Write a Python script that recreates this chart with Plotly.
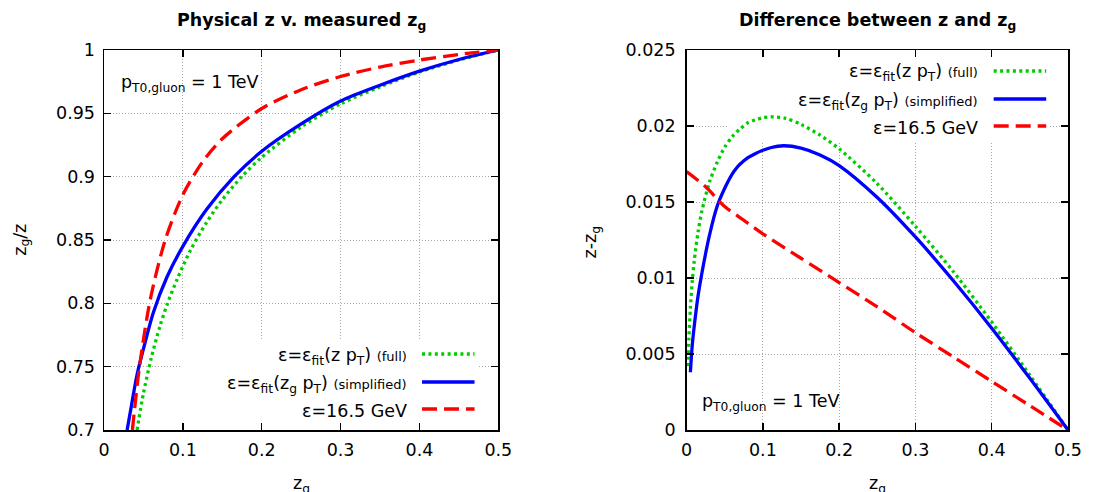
import plotly.graph_objects as go

# ---------------- data ----------------
# Left panel: z_g / z versus z_g
zg_full_L = [0.0419, 0.05, 0.06, 0.071, 0.08, 0.0926, 0.11, 0.13, 0.15, 0.175, 0.2, 0.25, 0.3, 0.35, 0.4, 0.45, 0.5]
ratio_full_L = [0.70, 0.729, 0.757, 0.782, 0.799, 0.8187, 0.8424, 0.8638, 0.8818, 0.9002, 0.9153, 0.9392,
                0.9575, 0.9709, 0.9826, 0.9921, 1.0]

zg_simp_L = [0.0293, 0.035, 0.042, 0.05, 0.0627, 0.08, 0.1, 0.13, 0.165, 0.2, 0.25, 0.3, 0.35, 0.4, 0.45, 0.5]
ratio_simp_L = [0.70, 0.72, 0.744, 0.764, 0.793, 0.821, 0.845, 0.874, 0.900, 0.920, 0.9416, 0.9597, 0.9722,
                0.9833, 0.9925, 1.0]

zg_const_L = [0.036, 0.045, 0.0586, 0.0775, 0.1, 0.125, 0.15, 0.2, 0.25, 0.3, 0.35, 0.4, 0.45, 0.5]
ratio_const_L = [0.70, 0.75, 0.8027, 0.8498, 0.8857, 0.9117, 0.9299, 0.9538, 0.9686, 0.9791, 0.9865, 0.9921,
                 0.9965, 1.0]

# Right panel: z - z_g versus z_g
zg_full_R = [0.0017, 0.003, 0.005, 0.0075, 0.01, 0.015, 0.02, 0.03, 0.04, 0.05, 0.06, 0.07, 0.08, 0.09,
             0.1, 0.11, 0.13, 0.15, 0.175, 0.2, 0.25, 0.3, 0.35, 0.4, 0.45, 0.5]
diff_full_R = [0.0042, 0.0060, 0.0080, 0.0098, 0.0111, 0.0130, 0.0144, 0.0163, 0.0176, 0.0186, 0.0193, 0.0198,
               0.0202, 0.0204, 0.02055, 0.0206, 0.0205, 0.0201, 0.0194, 0.0185, 0.0162, 0.0134, 0.0104, 0.0071,
               0.0036, 0.0]

zg_simp_R = [0.005, 0.0075, 0.01, 0.015, 0.02, 0.03, 0.04, 0.05, 0.06, 0.065, 0.07, 0.08, 0.09, 0.1, 0.11,
             0.127, 0.15, 0.175, 0.2, 0.25, 0.3, 0.35, 0.4, 0.45, 0.5]
diff_simp_R = [0.0038, 0.0056, 0.0068, 0.0088, 0.0103, 0.0128, 0.0147, 0.0159, 0.01685, 0.0172, 0.01748,
               0.0179, 0.01818, 0.0184, 0.01857, 0.0187, 0.01855, 0.0181, 0.0174, 0.0153, 0.0127, 0.0098,
               0.0067, 0.0034, 0.0]

zg_const_R = [0.0, 0.025, 0.05, 0.075, 0.1, 0.15, 0.2, 0.25, 0.3, 0.35, 0.4, 0.45, 0.5]
diff_const_R = [0.0170, 0.0160, 0.0147, 0.0138, 0.0129, 0.0113, 0.0097, 0.0081, 0.0064, 0.0048, 0.0032, 0.0016, 0.0]

x_ticks = [0, 0.1, 0.2, 0.3, 0.4, 0.5]
x_ticklabels = ["0", "0.1", "0.2", "0.3", "0.4", "0.5"]
yL_ticks = [0.7, 0.75, 0.8, 0.85, 0.9, 0.95, 1.0]
yL_ticklabels = ["0.7", "0.75", "0.8", "0.85", "0.9", "0.95", "1"]
yR_ticks = [0, 0.005, 0.01, 0.015, 0.02, 0.025]
yR_ticklabels = ["0", "0.005", "0.01", "0.015", "0.02", "0.025"]

series_names = [
    "ε=ε<sub>fit</sub>(z p<sub>T</sub>) <span style='font-size:13px'>(full)</span>",
    "ε=ε<sub>fit</sub>(z<sub>g</sub> p<sub>T</sub>) <span style='font-size:13px'>(simplified)</span>",
    "ε=16.5 GeV",
]
label_text = "p<sub>T0,gluon</sub> = 1 TeV"

# ---------------- styling ----------------
FONT = "DejaVu Sans"
FS = 17.5
GREEN = "#00cc00"
BLUE = "#0000ff"
RED = "#ff0000"
styles = [
    dict(color=GREEN, width=3.3, dash="3px,3.4px"),
    dict(color=BLUE, width=3.3, dash="solid"),
    dict(color=RED, width=3.3, dash="15px,7px"),
]

W, H = 1094, 492
# page-pixel positions of the plot frame
PL, PR, PT, PB = 104, 1077, 50, 430
ML, MR, MT, MB = PL, W - PR, PT, H - PB
PW, PH = W - ML - MR, H - MT - MB


def px(xp):
    return (xp - ML) / PW


def py(yp):
    return (H - MB - yp) / PH


fig = go.Figure()

left_sets = [(zg_full_L, ratio_full_L), (zg_simp_L, ratio_simp_L), (zg_const_L, ratio_const_L)]
right_sets = [(zg_full_R, diff_full_R), (zg_simp_R, diff_simp_R), (zg_const_R, diff_const_R)]

for (xs, ys), st in zip(left_sets, styles):
    fig.add_trace(go.Scatter(x=xs, y=ys, mode="lines", line=dict(shape="spline", smoothing=0.8, **st),
                             xaxis="x", yaxis="y", showlegend=False, hoverinfo="skip"))
for (xs, ys), st in zip(right_sets, styles):
    fig.add_trace(go.Scatter(x=xs, y=ys, mode="lines", line=dict(shape="spline", smoothing=0.8, **st),
                             xaxis="x2", yaxis="y2", showlegend=False, hoverinfo="skip"))

axis_common = dict(
    showline=True, linecolor="black", linewidth=1.5, mirror="ticks",
    ticks="inside", ticklen=7, tickwidth=1.3, tickcolor="black",
    showgrid=True, gridcolor="#a8a8a8", gridwidth=1, griddash="1px,2px",
    zeroline=False, tickfont=dict(family=FONT, size=FS, color="black"),
)

fig.update_layout(
    width=W, height=H, margin=dict(l=ML, r=MR, t=MT, b=MB),
    paper_bgcolor="white", plot_bgcolor="white",
    font=dict(family=FONT, size=FS, color="black"),
    hovermode=False,
    xaxis=dict(domain=[0, px(502)], range=[0, 0.5], tickvals=x_ticks, ticktext=x_ticklabels,
               anchor="y", ticklabelstandoff=3, **axis_common),
    yaxis=dict(domain=[0, 1], range=[0.7, 1.0], tickvals=yL_ticks, ticktext=yL_ticklabels,
               anchor="x", ticklabelstandoff=4, **axis_common),
    xaxis2=dict(domain=[px(692), 1], range=[0, 0.5], tickvals=x_ticks, ticktext=x_ticklabels,
                anchor="y2", ticklabelstandoff=3, **axis_common),
    yaxis2=dict(domain=[0, 1], range=[0, 0.025], tickvals=yR_ticks, ticktext=yR_ticklabels,
                anchor="x2", ticklabelstandoff=6, **axis_common),
)

# key boxes hide the grid (gnuplot style), drawn between grid and traces
fig.add_shape(type="rect", xref="x", yref="y", x0=0.0985, x1=0.474, y0=0.7, y1=0.771,
              line=dict(width=0), fillcolor="white", layer="between")
fig.add_shape(type="rect", xref="x2", yref="y2", x0=0.056, x1=0.475, y0=0.0189, y1=0.025,
              line=dict(width=0), fillcolor="white", layer="between")

annotations = []
# titles
annotations.append(dict(text="<b>Physical z v. measured z<sub>g</sub></b>", x=px(303), y=py(21),
                        xref="paper", yref="paper", showarrow=False, xanchor="center", yanchor="middle",
                        font=dict(family=FONT, size=FS)))
annotations.append(dict(text="<b>Difference between z and z<sub>g</sub></b>", x=px(885), y=py(21),
                        xref="paper", yref="paper", showarrow=False, xanchor="center", yanchor="middle",
                        font=dict(family=FONT, size=FS)))
# axis titles
for xc in (303, 885):
    annotations.append(dict(text="z<sub>g</sub>", x=px(xc), y=py(471), xref="paper", yref="paper",
                            showarrow=False, xanchor="center", yanchor="top", font=dict(family=FONT, size=FS)))
annotations.append(dict(text="z<sub>g</sub>/z", x=px(20), y=py(240), xref="paper", yref="paper",
                        showarrow=False, textangle=-90, xanchor="center", yanchor="middle",
                        font=dict(family=FONT, size=FS)))
annotations.append(dict(text="z-z<sub>g</sub>", x=px(596), y=py(242), xref="paper", yref="paper",
                        showarrow=False, textangle=-90, xanchor="center", yanchor="middle",
                        font=dict(family=FONT, size=FS)))
# pT labels
annotations.append(dict(text=label_text, x=px(119), y=py(84), xref="paper", yref="paper",
                        showarrow=False, xanchor="left", yanchor="middle", font=dict(family=FONT, size=FS)))
annotations.append(dict(text=label_text, x=px(706), y=py(402), xref="paper", yref="paper",
                        showarrow=False, xanchor="left", yanchor="middle", font=dict(family=FONT, size=FS)))

# manual keys (text right-justified, sample to the right)
keys = [
    dict(text_right=412, s0=425, s1=478, rows=[354, 382, 409]),
    dict(text_right=988, s0=1002, s1=1055, rows=[71, 99, 126]),
]
for k in keys:
    for name, st, yrow in zip(series_names, styles, k["rows"]):
        annotations.append(dict(text=name, x=px(k["text_right"]), y=py(yrow + 2), xref="paper", yref="paper",
                                showarrow=False, xanchor="right", yanchor="middle",
                                font=dict(family=FONT, size=FS)))
        fig.add_shape(type="line", xref="paper", yref="paper", x0=px(k["s0"]), x1=px(k["s1"]),
                      y0=py(yrow), y1=py(yrow), line=dict(color=st["color"], width=st["width"], dash=st["dash"]))

fig.update_layout(annotations=annotations)
# remove the default page margin so the figure sits at the page origin
fig.write_html("out.html", config={"displayModeBar": False, "staticPlot": True},
               post_script="document.body.style.margin='0';document.body.style.overflow='hidden';")
